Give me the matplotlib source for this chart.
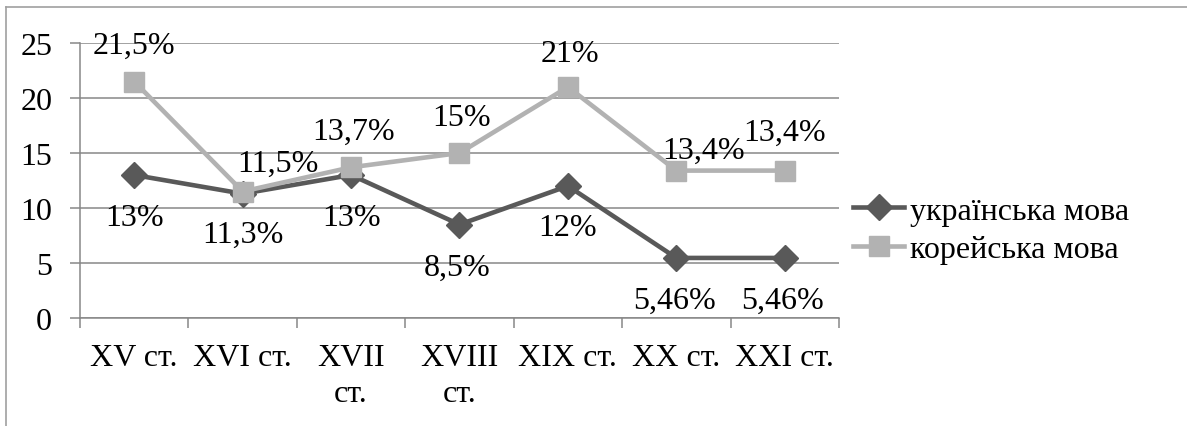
import matplotlib
matplotlib.use("Agg")
import matplotlib.pyplot as plt
from matplotlib.lines import Line2D

# data
centuries = ["XV ст.", "XVI ст.", "XVII\nст.", "XVIII\nст.", "XIX ст.", "XX ст.", "XXI ст."]
ukr_values = [13, 11.3, 13, 8.5, 12, 5.46, 5.46]
kor_values = [21.5, 11.5, 13.7, 15, 21, 13.4, 13.4]
ukr_labels = ["13%", "11,3%", "13%", "8,5%", "12%", "5,46%", "5,46%"]
kor_labels = ["21,5%", "11,5%", "13,7%", "15%", "21%", "13,4%", "13,4%"]
series_names = ["українська мова", "корейська мова"]

# label offsets in pixels (placement only)
ukr_off = [(0, -43), (0, -41), (0, -43), (-2, -43), (0, -42), (-2, -42), (-2, -42)]
kor_off = [(0, 36), (35, 28), (2, 36), (2, 36), (2, 34), (27, 20), (0, 38)]

plt.rcParams["font.family"] = "serif"
plt.rcParams["font.serif"] = ["Liberation Serif", "DejaVu Serif"]
FS = 23
W, H = 1187, 427

fig = plt.figure(figsize=(W / 100, H / 100), dpi=100)
ax = fig.add_axes([80 / W, 1 - 319 / H, (839 - 80) / W, (319 - 44) / H])

x = list(range(len(centuries)))
dark = "#595959"
light = "#b2b2b2"
grid_c = "#878787"

ax.plot(x, ukr_values, color=dark, lw=3.3, marker="D", markersize=13,
        label=series_names[0], zorder=3)
ax.plot(x, kor_values, color=light, lw=3.3, marker="s", markersize=14.5,
        label=series_names[1], zorder=4)

for xi, v, t, off in zip(x, ukr_values, ukr_labels, ukr_off):
    ax.annotate(t, (xi, v), xytext=off, textcoords="offset pixels",
                ha="center", va="center", fontsize=FS, zorder=5)
for xi, v, t, off in zip(x, kor_values, kor_labels, kor_off):
    ax.annotate(t, (xi, v), xytext=off, textcoords="offset pixels",
                ha="center", va="center", fontsize=FS, zorder=5)

ax.set_xlim(-0.5, len(centuries) - 0.5)
ax.set_ylim(0, 25)
ax.set_yticks([0, 5, 10, 15, 20, 25])
ax.set_xticks([i - 0.5 for i in range(len(centuries) + 1)], minor=False)
ax.set_xticklabels([])
ax.set_xticks(x, minor=True)
ax.set_xticklabels(centuries, minor=True, fontsize=FS, linespacing=1.3)
ax.tick_params(axis="x", which="major", length=7, width=1.1, color=grid_c, direction="out")
ax.tick_params(axis="x", which="minor", length=0, pad=18)
ax.tick_params(axis="y", length=7, width=1.1, color=grid_c, labelsize=FS, pad=13)

ax.grid(axis="y", color=grid_c, lw=1.1)
ax.set_axisbelow(True)
for s in ["top", "right"]:
    ax.spines[s].set_visible(False)
for s in ["left", "bottom"]:
    ax.spines[s].set_color(grid_c)
    ax.spines[s].set_linewidth(1.1)

fig.legend(loc="center left", bbox_to_anchor=(853 / W, 1 - 231 / H),
           frameon=False, fontsize=FS, handlelength=1.6, handletextpad=0.2,
           labelspacing=0.28, borderpad=0, borderaxespad=0)

# outer chart border (left and top visible)
fig.add_artist(Line2D([6 / W, 6 / W], [0, 1 - 8 / H], color="#a0a0a0", lw=1.2))
fig.add_artist(Line2D([6 / W, 1], [1 - 8 / H, 1 - 8 / H], color="#a0a0a0", lw=1.2))

fig.savefig("out.png", dpi=100, facecolor="white")
